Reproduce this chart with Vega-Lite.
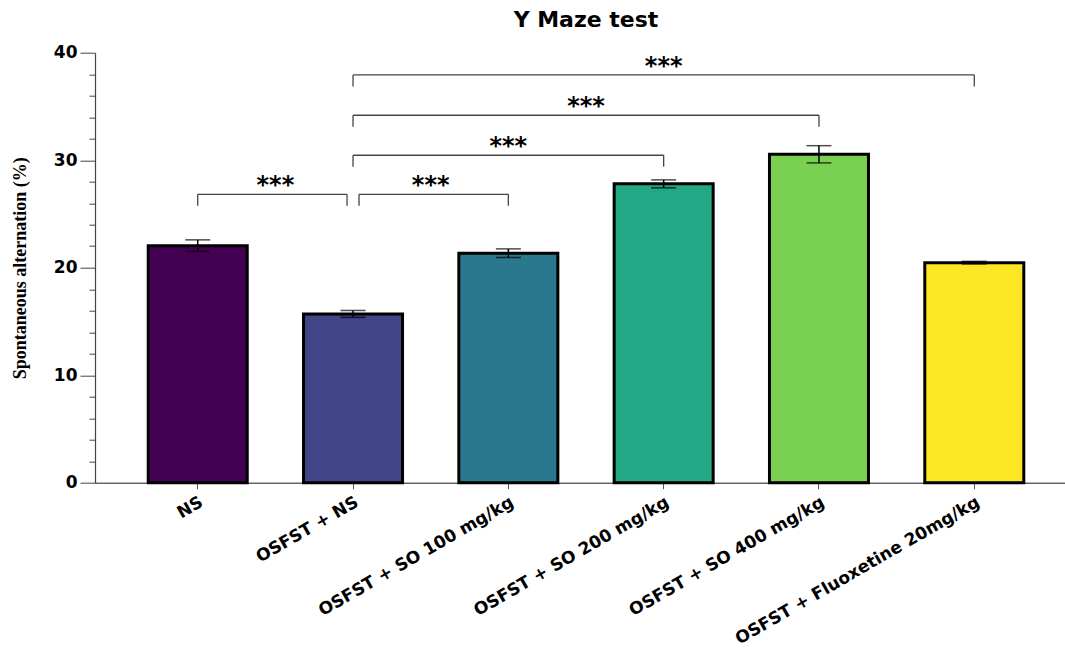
{
  "$schema": "https://vega.github.io/schema/vega-lite/v6.json",
  "width": 982,
  "height": 430,
  "autosize": {"type": "none"},
  "padding": {"left": 95, "top": 52.7, "right": -12, "bottom": 171.3},
  "background": "white",
  "title": {
    "text": "Y Maze test",
    "font": "DejaVu Sans",
    "fontSize": 22,
    "fontWeight": "bold",
    "color": "black",
    "anchor": "middle",
    "frame": "group",
    "baseline": "bottom",
    "offset": 0,
    "dy": 10
  },
  "config": {"view": {"stroke": null}},
  "resolve": {"axis": {"y": "independent"}},
  "datasets": {
    "bars": [
      {"group": "NS", "mean": 22.05, "sem": 0.54},
      {"group": "OSFST + NS", "mean": 15.7, "sem": 0.32},
      {"group": "OSFST + SO 100 mg/kg", "mean": 21.35, "sem": 0.4},
      {"group": "OSFST + SO 200 mg/kg", "mean": 27.8, "sem": 0.37},
      {"group": "OSFST + SO 400 mg/kg", "mean": 30.55, "sem": 0.8},
      {"group": "OSFST + Fluoxetine 20mg/kg", "mean": 20.47, "sem": 0.12}
    ],
    "brackets": [
      {"id": 1, "from": "NS", "to": "OSFST + NS", "level": 26.83, "label": "***"},
      {"id": 2, "from": "OSFST + NS", "to": "OSFST + SO 100 mg/kg", "level": 26.83, "label": "***"},
      {"id": 3, "from": "OSFST + NS", "to": "OSFST + SO 200 mg/kg", "level": 30.46, "label": "***"},
      {"id": 4, "from": "OSFST + NS", "to": "OSFST + SO 400 mg/kg", "level": 34.18, "label": "***"},
      {"id": 5, "from": "OSFST + NS", "to": "OSFST + Fluoxetine 20mg/kg", "level": 37.93, "label": "***"}
    ]
  },
  "encoding": {
    "x": {
      "field": "group",
      "type": "nominal",
      "sort": null,
      "scale": {
        "domain": ["NS", "OSFST + NS", "OSFST + SO 100 mg/kg", "OSFST + SO 200 mg/kg", "OSFST + SO 400 mg/kg", "OSFST + Fluoxetine 20mg/kg"],
        "paddingInner": 0.3625,
        "paddingOuter": 0.3426
      },
      "axis": {
        "title": null,
        "labelAngle": -30,
        "labelFont": "DejaVu Sans",
        "labelFontSize": 17,
        "labelFontWeight": "bold",
        "labelColor": "black",
        "labelPadding": 5,
        "tickSize": 6,
        "tickColor": "#555",
        "domainColor": "#666",
        "domainWidth": 1.5,
        "labelLimit": 400
      }
    }
  },
  "layer": [
    {
      "data": {"name": "bars"},
      "mark": {"type": "bar", "stroke": "black", "strokeWidth": 3},
      "encoding": {
        "y": {
          "field": "mean",
          "type": "quantitative",
          "scale": {"domain": [0, 40], "nice": false},
          "axis": {
            "orient": "left",
            "title": "Spontaneous alternation (%)",
            "titleFont": "Liberation Serif",
            "titleFontSize": 18,
            "titleFontWeight": "bold",
            "titleColor": "black",
            "titlePadding": 24,
            "values": [0, 2, 4, 6, 8, 10, 12, 14, 16, 18, 20, 22, 24, 26, 28, 30, 32, 34, 36, 38, 40],
            "labelExpr": "datum.value % 10 === 0 ? datum.label : ''",
            "labelFont": "DejaVu Sans",
            "labelFontSize": 17,
            "labelFontWeight": "bold",
            "labelColor": "black",
            "labelPadding": 3,
            "labelOverlap": false,
            "tickSize": {"condition": {"test": "datum.value % 10 === 0", "value": 15}, "value": 6},
            "tickColor": "#444",
            "domainColor": "#444",
            "domainWidth": 1.2,
            "grid": false
          }
        },
        "fill": {
          "field": "group",
          "type": "nominal",
          "sort": null,
          "scale": {"range": ["#440154", "#414487", "#2A788E", "#22A884", "#7AD151", "#FDE725"]},
          "legend": null
        }
      }
    },
    {
      "data": {"name": "bars"},
      "mark": {"type": "errorbar", "ticks": {"size": 25, "thickness": 1.5, "color": "black"}, "rule": {"strokeWidth": 1.5, "color": "black"}},
      "encoding": {
        "y": {"field": "mean", "type": "quantitative", "axis": null},
        "yError": {"field": "sem"}
      }
    },
    {
      "data": {"name": "brackets"},
      "transform": [{"filter": "datum.id >= 3"}],
      "mark": {"type": "rule", "color": "#444", "strokeWidth": 1.3},
      "encoding": {
        "x": {"field": "from", "type": "nominal", "bandPosition": 0.5},
        "x2": {"field": "to", "bandPosition": 0.5},
        "y": {"field": "level", "type": "quantitative", "axis": null}
      }
    },
    {
      "data": {"name": "brackets"},
      "transform": [{"filter": "datum.id == 1"}],
      "mark": {"type": "rule", "color": "#444", "strokeWidth": 1.3, "x2Offset": -6},
      "encoding": {
        "x": {"field": "from", "type": "nominal", "bandPosition": 0.5},
        "x2": {"field": "to", "bandPosition": 0.5},
        "y": {"field": "level", "type": "quantitative", "axis": null}
      }
    },
    {
      "data": {"name": "brackets"},
      "transform": [{"filter": "datum.id == 2"}],
      "mark": {"type": "rule", "color": "#444", "strokeWidth": 1.3, "xOffset": 6},
      "encoding": {
        "x": {"field": "from", "type": "nominal", "bandPosition": 0.5},
        "x2": {"field": "to", "bandPosition": 0.5},
        "y": {"field": "level", "type": "quantitative", "axis": null}
      }
    },
    {
      "data": {"name": "brackets"},
      "transform": [{"filter": "datum.id != 2"}],
      "mark": {"type": "rule", "color": "#444", "strokeWidth": 1.3, "y2Offset": 11.5},
      "encoding": {
        "x": {"field": "from", "type": "nominal", "bandPosition": 0.5},
        "y": {"field": "level", "type": "quantitative", "axis": null},
        "y2": {"field": "level"}
      }
    },
    {
      "data": {"name": "brackets"},
      "transform": [{"filter": "datum.id == 2"}],
      "mark": {"type": "rule", "color": "#444", "strokeWidth": 1.3, "y2Offset": 11.5, "xOffset": 6},
      "encoding": {
        "x": {"field": "from", "type": "nominal", "bandPosition": 0.5},
        "y": {"field": "level", "type": "quantitative", "axis": null},
        "y2": {"field": "level"}
      }
    },
    {
      "data": {"name": "brackets"},
      "transform": [{"filter": "datum.id != 1"}],
      "mark": {"type": "rule", "color": "#444", "strokeWidth": 1.3, "y2Offset": 11.5},
      "encoding": {
        "x": {"field": "to", "type": "nominal", "bandPosition": 0.5},
        "y": {"field": "level", "type": "quantitative", "axis": null},
        "y2": {"field": "level"}
      }
    },
    {
      "data": {"name": "brackets"},
      "transform": [{"filter": "datum.id == 1"}],
      "mark": {"type": "rule", "color": "#444", "strokeWidth": 1.3, "y2Offset": 11.5, "xOffset": -6},
      "encoding": {
        "x": {"field": "to", "type": "nominal", "bandPosition": 0.5},
        "y": {"field": "level", "type": "quantitative", "axis": null},
        "y2": {"field": "level"}
      }
    },
    {
      "data": {"name": "brackets"},
      "mark": {"type": "text", "font": "DejaVu Sans", "fontSize": 24, "fontWeight": "bold", "color": "black", "baseline": "middle", "align": "center", "dy": -8},
      "encoding": {
        "x": {"value": {"expr": "(scale('x', datum.from) + scale('x', datum.to)) / 2 + bandwidth('x') / 2"}},
        "y": {"field": "level", "type": "quantitative", "axis": null},
        "text": {"field": "label"}
      }
    }
  ]
}
